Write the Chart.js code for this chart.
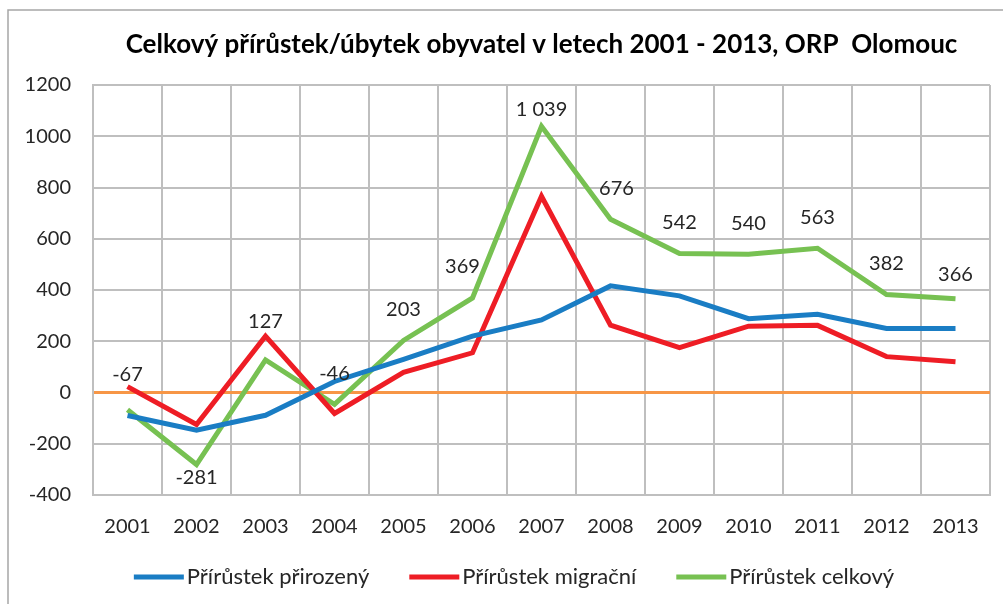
<!DOCTYPE html>
<html>
<head>
<meta charset="UTF-8" />
<title>Celkový přírůstek/úbytek obyvatel</title>
<script src="https://cdn.jsdelivr.net/npm/chart.js"></script>
<style>
  *{box-sizing:border-box}
  html,body{margin:0;padding:0;background:#fff;}
  .wrap{position:relative;width:1003px;height:604px;}
</style>
</head>
<body>
<div class="wrap"><canvas id="chart" width="1003" height="604"></canvas></div>
<script>
  // data
  const years = ["2001","2002","2003","2004","2005","2006","2007","2008","2009","2010","2011","2012","2013"];
  const natural = [-90, -147, -89, 43, 129, 220, 283, 416, 377, 288, 305, 250, 250];
  const migration = [23, -125, 220, -82, 79, 155, 766, 263, 175, 259, 262, 140, 120];
  const total = [-67, -281, 127, -46, 203, 369, 1039, 676, 542, 540, 563, 382, 366];
  const yTicks = [-400, -200, 0, 200, 400, 600, 800, 1000, 1200];

  const title = "Celkový přírůstek/úbytek obyvatel v letech 2001 - 2013, ORP  Olomouc";
  const FONT = "Lato, 'Open Sans', sans-serif";

  function fmt(v){
    return String(v).replace(/\B(?=(\d{3})+(?!\d))/g, " ");
  }

  // outer frame, title centred over the plot, legend along the bottom
  const frame = {
    id: "frame",
    beforeDraw(chart){
      const c = chart.ctx;
      c.save();
      c.strokeStyle = "#a6a6a6";
      c.lineWidth = 1.5;
      c.beginPath();
      c.moveTo(8, 604);
      c.lineTo(8, 10);
      c.lineTo(1003, 10);
      c.stroke();
      c.restore();
    },
    afterDraw(chart, args, opts){
      const c = chart.ctx, a = chart.chartArea;
      c.save();
      c.font = "bold 26px " + FONT;
      c.fillStyle = "#000";
      c.textAlign = "center";
      c.textBaseline = "middle";
      c.fillText(title, (a.left + a.right) / 2, 45);

      // legend
      c.font = "22px " + FONT;
      c.textAlign = "left";
      const items = chart.data.datasets.map(d => ({ text: d.label, color: d.borderColor, w: c.measureText(d.label).width }));
      const full = items.reduce((s, it) => s + opts.sample + opts.gap + it.w, 0) + opts.spacing * (items.length - 1);
      let x = opts.centerX - full / 2;
      items.forEach(it => {
        c.fillStyle = it.color;
        c.fillRect(x, opts.y - 2.5, opts.sample, 5);
        x += opts.sample + opts.gap;
        c.fillStyle = "#262626";
        c.fillText(it.text, x, opts.y);
        x += it.w + opts.spacing;
      });
      c.restore();
    }
  };

  // value labels on the total series
  const valueLabels = {
    id: "valueLabels",
    afterDatasetsDraw(chart, args, opts){
      const meta = chart.getDatasetMeta(2);
      const c = chart.ctx;
      c.save();
      c.font = "20px " + FONT;
      c.fillStyle = "#262626";
      c.textAlign = "center";
      c.textBaseline = "middle";
      meta.data.forEach((pt, i) => {
        const dy = opts.offsets[i] !== undefined ? opts.offsets[i] : -31;
        const dx = opts.shifts[i] || 0;
        c.fillText(fmt(total[i]), pt.x + dx, pt.y + dy);
      });
      c.restore();
    }
  };

  const lineDs = (label, data, color) => ({
    label, data,
    borderColor: color,
    backgroundColor: color,
    borderWidth: 5,
    pointRadius: 0,
    tension: 0,
    fill: false
  });

  new Chart(document.getElementById("chart"), {
    type: "line",
    data: {
      labels: years,
      datasets: [
        lineDs("Přírůstek přirozený", natural, "#1a7dc4"),
        lineDs("Přírůstek migrační", migration, "#ee1d25"),
        lineDs("Přírůstek celkový", total, "#77c152")
      ]
    },
    plugins: [frame, valueLabels],
    options: {
      responsive: false,
      animation: false,
      layout: { padding: { top: 85, right: 13, left: 0, bottom: 49 } },
      plugins: {
        title: { display: false },
        tooltip: { enabled: false },
        legend: { display: false },
        frame: { centerX: 514, y: 577, sample: 50, gap: 3, spacing: 40 },
        valueLabels: {
          offsets: { 0: -35, 1: 13, 2: -38, 6: -17, 12: -24 },
          shifts: { 5: -10, 7: 6 }
        }
      },
      scales: {
        x: {
          offset: true,
          grid: { offset: true, color: "#bfbfbf", lineWidth: 2, drawTicks: false },
          border: { display: true, color: "#bfbfbf", width: 2 },
          ticks: { font: { family: FONT, size: 20 }, color: "#262626", padding: 20, maxRotation: 0, autoSkip: false },
          afterFit(scale){ scale.height = 60; }
        },
        y: {
          min: -400,
          max: 1200,
          afterBuildTicks(scale){ scale.ticks = yTicks.map(v => ({ value: v })); },
          grid: {
            drawTicks: false,
            color: ctx => ctx.tick && ctx.tick.value === 0 ? "#f79646" : "#bfbfbf",
            lineWidth: ctx => ctx.tick && ctx.tick.value === 0 ? 3 : 2
          },
          border: { display: true, color: "#bfbfbf", width: 2 },
          ticks: {
            font: { family: FONT, size: 20 }, color: "#262626", padding: 22,
            callback: v => String(v)
          },
          afterFit(scale){ scale.width = 93; }
        }
      }
    }
  });
</script>
</body>
</html>
